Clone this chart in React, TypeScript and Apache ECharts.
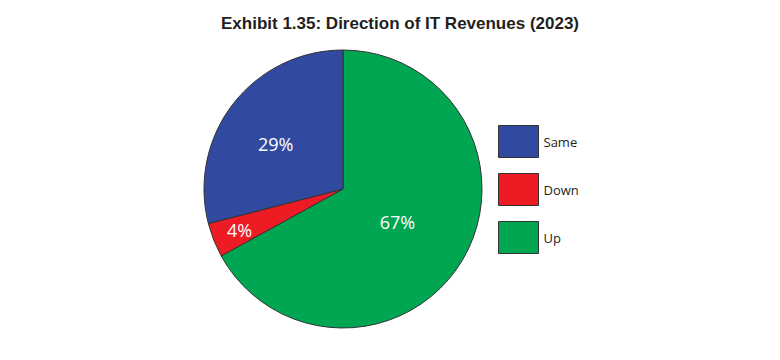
import React, { useEffect, useRef } from "react";
import * as echarts from "echarts";

const categories = ["Up", "Down", "Same"];
const values = [67, 4, 29];
const colors = ["#00A651", "#ED1C24", "#314A9F"];
const legendOrder = ["Same", "Down", "Up"];
const labelOffsets = [[-8, -4], [-36, 14], [-10, -1]];

export default function App() {
  const ref = useRef<HTMLDivElement>(null);
  useEffect(() => {
    const chart = echarts.init(ref.current!, undefined, { renderer: "svg" });
    chart.setOption({
      animation: false,
      title: {
        text: "Exhibit 1.35: Direction of IT Revenues (2023)",
        left: 395,
        textAlign: "center",
        top: 10,
        textStyle: {
          fontFamily: "Liberation Sans, Arial, sans-serif",
          fontWeight: "bold",
          fontSize: 17,
          color: "#231F20",
        },
      },
      legend: {
        orient: "vertical",
        left: 498,
        top: 125,
        padding: 0,
        itemWidth: 40,
        itemHeight: 32,
        itemGap: 15,
        icon: "rect",
        data: legendOrder,
        textStyle: {
          fontFamily: "Open Sans, Noto Sans, sans-serif",
          fontSize: 13,
          color: "#231F20",
        },
        itemStyle: { borderColor: "#333", borderWidth: 1 },
        selectedMode: false,
      },
      series: [
        {
          type: "pie",
          center: [343, 189],
          radius: [0, 139],
          startAngle: 90,
          clockwise: true,
          data: categories.map((c, i) => ({
            name: c,
            value: values[i],
            itemStyle: { color: colors[i] },
            label: { offset: labelOffsets[i] },
          })),
          itemStyle: { borderColor: "#333", borderWidth: 1 },
          label: {
            position: "inside",
            formatter: "{c}%",
            color: "#fff",
            fontSize: 18,
            fontFamily: "Open Sans, Noto Sans, sans-serif",
          },
          labelLine: { show: false },
          emphasis: { disabled: true },
        },
      ],
    });
    return () => chart.dispose();
  }, []);
  return (
    <div
      ref={ref}
      style={{ position: "fixed", left: 0, top: 0, width: 780, height: 360, background: "#fff" }}
    />
  );
}
